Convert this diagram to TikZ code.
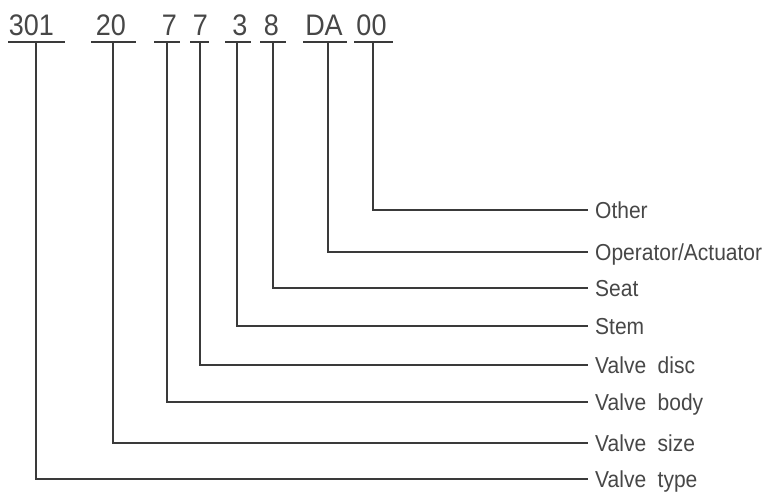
\documentclass[tikz,border=0pt]{standalone}
\usepackage{fontspec}
\setmainfont{Liberation Sans}
\definecolor{ink}{HTML}{3A3A3A}
\definecolor{txt}{HTML}{474747}
\newcommand{\tallt}[1]{\scalebox{1}[1.1]{#1}}
\begin{document}
\begin{tikzpicture}[x=1pt,y=-1pt,
  code/.style={anchor=base,inner sep=0pt,text=txt,font=\fontsize{27}{27}\selectfont},
  lab/.style={anchor=west,inner xsep=7pt,inner ysep=0pt,text height=16.5pt,text depth=0pt,text=txt,font=\fontsize{21}{21}\selectfont},
  uline/.style={draw=ink,line width=1.8pt},
  conn/.style={draw=ink,line width=1.8pt,line join=miter}]
\useasboundingbox (0,0) rectangle (765,491);
\fill[white] (0,0) rectangle (765,491);
% codes
\node[code] (c1) at (31.5,35) {\tallt{301}};
\node[code] (c2) at (111,35) {\tallt{20}};
\node[code] (c3) at (169.5,35) {\tallt{7}};
\node[code] (c4) at (200.5,35) {\tallt{7}};
\node[code] (c5) at (240,35) {\tallt{3}};
\node[code] (c6) at (271.5,35) {\tallt{8}};
\node[code] (c7) at (324,35) {\tallt{DA}};
\node[code] (c8) at (371.5,35) {\tallt{00}};
% underline ends and drop points
\coordinate (a1) at (8,42);   \coordinate (b1) at (65,42);  \coordinate (d1) at (36,42);
\coordinate (a2) at (91,42);  \coordinate (b2) at (136,42); \coordinate (d2) at (113,42);
\coordinate (a3) at (154,42); \coordinate (b3) at (180,42); \coordinate (d3) at (167,42);
\coordinate (a4) at (190,42); \coordinate (b4) at (209,42); \coordinate (d4) at (200,42);
\coordinate (a5) at (225,42); \coordinate (b5) at (251,42); \coordinate (d5) at (237,42);
\coordinate (a6) at (260,42); \coordinate (b6) at (286,42); \coordinate (d6) at (273,42);
\coordinate (a7) at (303,42); \coordinate (b7) at (347,42); \coordinate (d7) at (328,42);
\coordinate (a8) at (354,42); \coordinate (b8) at (393,42); \coordinate (d8) at (373,42);
\foreach \i in {1,...,8} {\draw[uline] (a\i) -- (b\i);}
% labels
\node[lab] (l8) at (588,210) {\tallt{Other}};
\node[lab] (l7) at (588,252) {\tallt{Operator/Actuator}};
\node[lab] (l6) at (588,288) {\tallt{Seat}};
\node[lab] (l5) at (588,326) {\tallt{Stem}};
\node[lab] (l4) at (588,365) {\tallt{Valve\hspace{0.55em}disc}};
\node[lab] (l3) at (588,402) {\tallt{Valve\hspace{0.55em}body}};
\node[lab] (l2) at (588,443) {\tallt{Valve\hspace{0.55em}size}};
\node[lab] (l1) at (588,479) {\tallt{Valve\hspace{0.55em}type}};
% connectors
\foreach \i in {1,...,8} {\draw[conn] (d\i) |- (l\i.west);}
\end{tikzpicture}
\end{document}
